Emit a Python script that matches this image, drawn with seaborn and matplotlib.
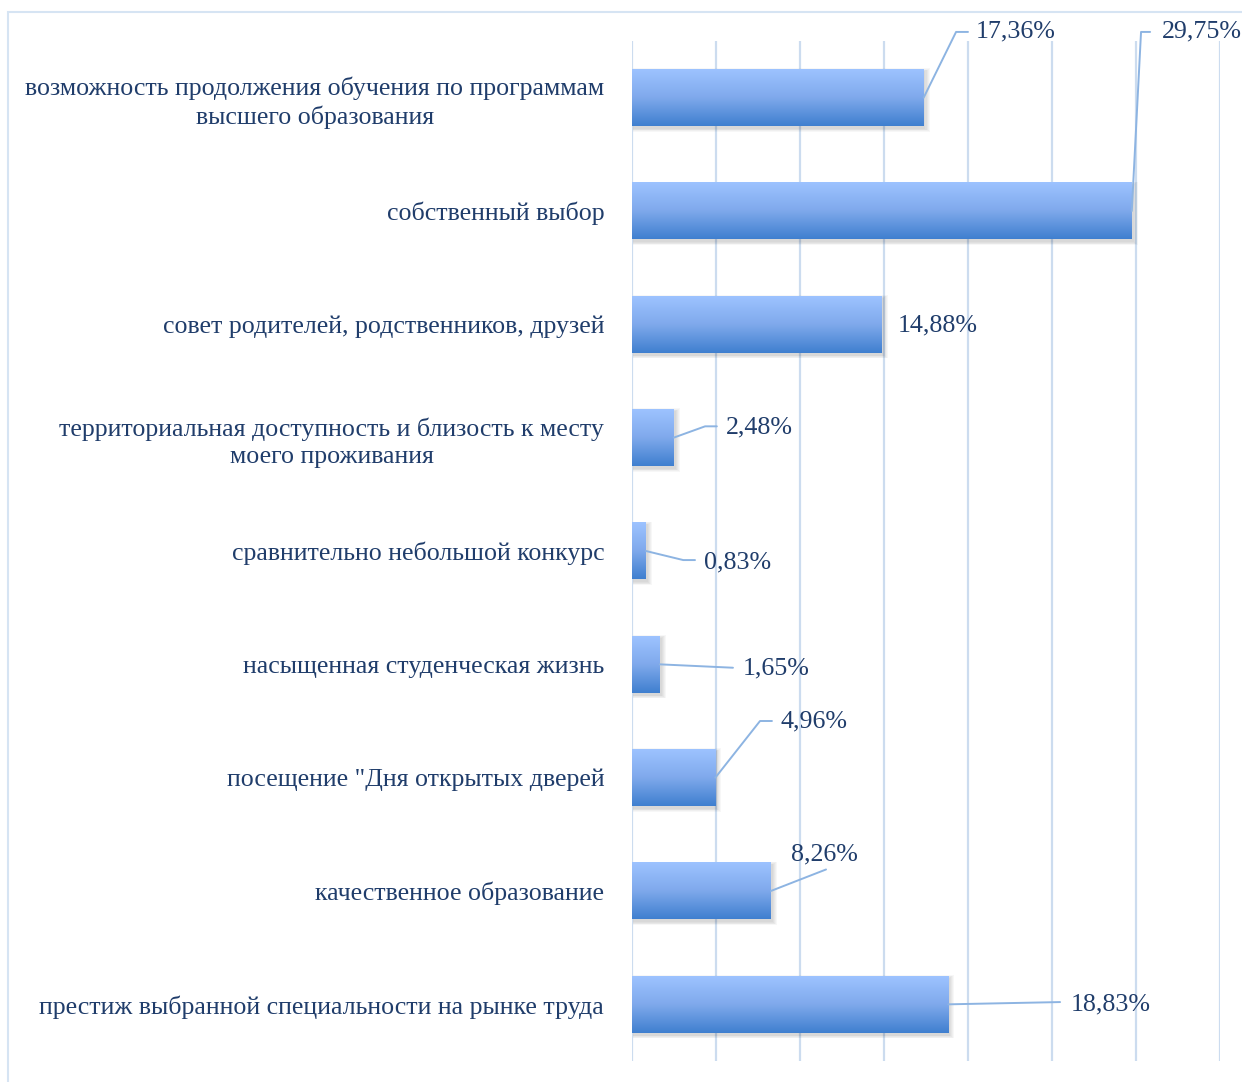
import numpy as np
import pandas as pd
import seaborn as sns
import matplotlib.pyplot as plt
from matplotlib.colors import LinearSegmentedColormap
from matplotlib.patches import Rectangle

# data
categories = [
    "возможность продолжения обучения по программам\nвысшего образования",
    "собственный выбор",
    "совет родителей, родственников, друзей",
    "территориальная доступность и близость к месту\nмоего проживания",
    "сравнительно небольшой конкурс",
    "насыщенная студенческая жизнь",
    "посещение \"Дня открытых дверей",
    "качественное образование",
    "престиж выбранной специальности на рынке труда",
]
values = [17.36, 29.75, 14.88, 2.48, 0.83, 1.65, 4.96, 8.26, 18.83]
value_labels = ["17,36%", "29,75%", "14,88%", "2,48%", "0,83%", "1,65%", "4,96%", "8,26%", "18,83%"]

# label placement (text anchor, leader elbow, horizontal tail length)
label_xy = [(20.48, -0.58), (31.55, -0.58), (15.83, 2.01), (5.6, 2.91), (4.29, 4.10),
            (6.61, 5.04), (8.81, 5.50), (9.46, 6.675), (26.13, 8.0)]
leader_elbow = [(19.29, -0.58), (30.30, -0.58), None, (4.35, 2.90), (3.05, 4.08),
                (6.01, 5.03), (7.62, 5.50), (11.55, 6.81), (25.48, 7.98)]
leader_tail = [0.71, 0.54, 0, 0.7, 0.7, 0, 0.71, 0, 0]

text_color = "#203D6B"
grid_color = "#CCDCEF"
leader_color = "#8DB4E2"

df = pd.DataFrame({"category": categories, "value": values})

sns.set_theme(style="white")
plt.rcParams["font.family"] = ["Liberation Serif", "DejaVu Serif"]

fig = plt.figure(figsize=(12.42, 10.82), dpi=100)
ax = fig.add_axes([632 / 1242, 1 - 1061 / 1082, 588 / 1242, 1020 / 1082])

sns.barplot(data=df, x="value", y="category", orient="h", width=0.5,
            color="#6f9fe6", ax=ax, zorder=3)

# gradient fill + soft shadow for each bar
cmap = LinearSegmentedColormap.from_list("bar", ["#9DC3FF", "#7FA9EC", "#3F7FCF"])
grad = np.linspace(0, 1, 256).reshape(-1, 1)
for p in ax.patches:
    x0, y0 = p.get_x(), p.get_y()
    w, h = p.get_width(), p.get_height()
    for k in range(5):
        off = 0.012 * (5 - k)
        ax.add_patch(Rectangle((x0 + 0.05, y0 + 0.02 - off / 2), w + 0.06 * (5 - k), h + off,
                               facecolor="black", edgecolor="none", alpha=0.03, zorder=2))
    ax.imshow(grad, cmap=cmap, aspect="auto", origin="upper",
              extent=(x0, x0 + w, y0 + h, y0), zorder=3.5)
    p.set_facecolor("none")
    p.set_edgecolor("none")

ax.set_xlim(0, 35)
ax.set_ylim(8.5, -0.5)

# data labels with leader lines
for i, (v, lab) in enumerate(zip(values, value_labels)):
    lx, ly = label_xy[i]
    el = leader_elbow[i]
    if el is not None:
        ax.plot([v, el[0], el[0] + leader_tail[i]], [i, el[1], el[1]],
                color=leader_color, lw=1.4, zorder=4, clip_on=False)
    ax.text(lx, ly, lab, ha="left", va="center", fontsize=18.7, color=text_color,
            zorder=5, clip_on=False)

ax.set_xticks(np.arange(0, 36, 5))
ax.set_xticklabels([])
ax.xaxis.grid(True, color=grid_color, lw=1.6)
ax.yaxis.grid(False)
ax.set_axisbelow(True)
ax.set_xlabel("")
ax.set_ylabel("")
ax.tick_params(axis="both", length=0)
ax.tick_params(axis="y", pad=20, labelsize=18.6, labelcolor=text_color)
for t in ax.get_yticklabels():
    t.set_multialignment("center")
    t.set_linespacing(1.3)
for s in ax.spines.values():
    s.set_visible(False)

# outer chart frame (cropped at right and bottom)
fig.add_artist(Rectangle((8 / 1242, -0.1), 1.2, 1.1 - 12 / 1082, transform=fig.transFigure,
                         fill=False, edgecolor="#D6E4F3", lw=1.5))

fig.savefig("out.png", dpi=100, facecolor="white")
